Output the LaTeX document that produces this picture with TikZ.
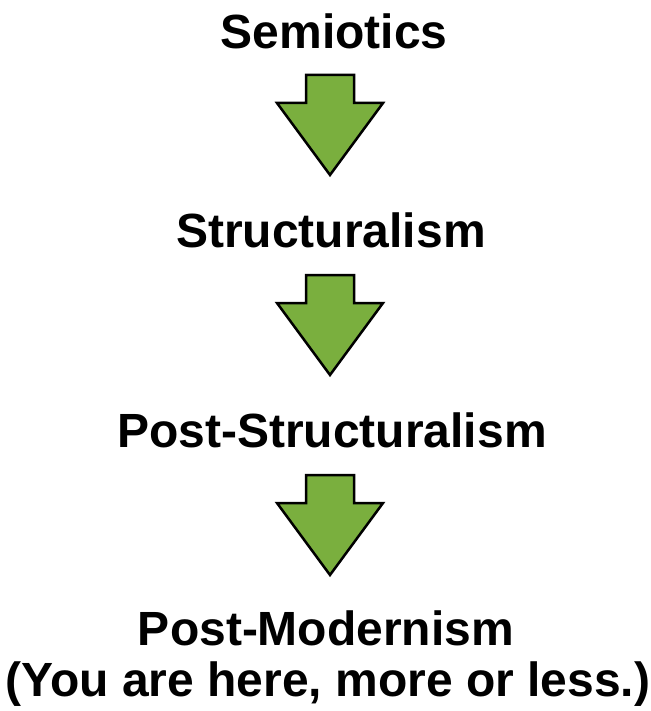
\documentclass[tikz,border=0pt]{standalone}
\usepackage{fontspec}
\setmainfont{Liberation Sans}
\definecolor{arrgreen}{RGB}{122,175,62}
\tikzset{
  label/.style={anchor=base, inner sep=0pt, font=\fontsize{48}{57}\selectfont\bfseries},
  downarr/.style={draw=black, fill=arrgreen, line width=2.5pt, line join=miter}
}
\begin{document}
\begin{tikzpicture}[x=1pt,y=-1pt]
\useasboundingbox (0,0) rectangle (650,711);
\node[label] (sem) at (334,49){Semiotics};
\node[label] (struc) at (331,247){Structuralism};
\node[label] (poststruc) at (332,447){Post-Structuralism};
\node[label] (postmod) at (326,645){Post-Modernism};
\node[label] (here) at (328,696){(You are here, more or less.)};
\draw[downarr, shift={(330,75)}] (-24,0) -- (24,0) -- (24,28) -- (53,28) -- (0,100) -- (-53,28) -- (-24,28) -- cycle;
\draw[downarr, shift={(330,275)}] (-24,0) -- (24,0) -- (24,28) -- (53,28) -- (0,100) -- (-53,28) -- (-24,28) -- cycle;
\draw[downarr, shift={(330,475)}] (-24,0) -- (24,0) -- (24,28) -- (53,28) -- (0,100) -- (-53,28) -- (-24,28) -- cycle;

\end{tikzpicture}
\end{document}
